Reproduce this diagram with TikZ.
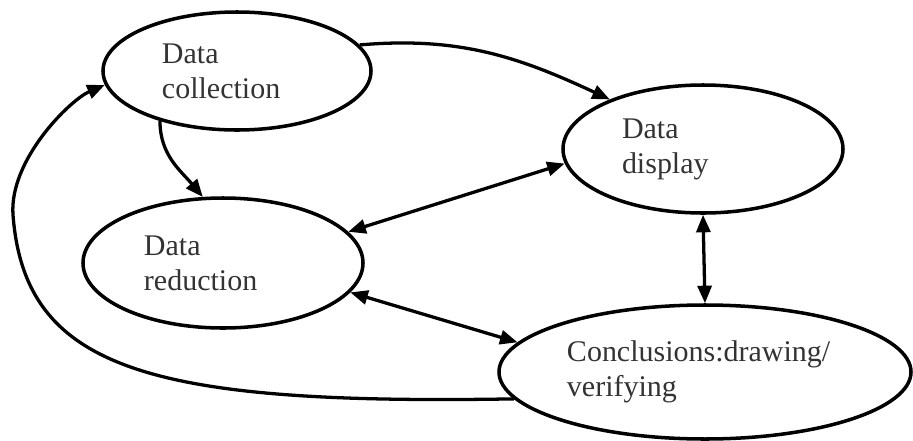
\documentclass[tikz,border=0pt]{standalone}
\usepackage{fontspec}
\setmainfont{Liberation Serif}
\usetikzlibrary{shapes.geometric,arrows.meta}

\begin{document}
\begin{tikzpicture}[x=0.03cm,y=-0.03cm,
  blob/.style={ellipse,draw,line width=3pt,inner sep=0pt,align=left,
    text=black!80,font=\fontsize{25.6}{30}\selectfont},
  link/.style={line width=2.8pt,-{Triangle[length=15pt,width=12pt]}},
  both/.style={line width=2.8pt,{Triangle[length=15pt,width=12pt]}-{Triangle[length=15pt,width=12pt]}}]
\useasboundingbox (0,0) rectangle (913,440);

\node[blob,minimum width=8.04cm,minimum height=3.54cm,text width=4.5cm] (coll) at (237,71) {Data\\collection};
\node[blob,minimum width=8.4cm,minimum height=3.84cm,text width=4.86cm] (disp) at (703,149) {Data\\display};
\node[blob,minimum width=8.4cm,minimum height=3.9cm,text width=4.74cm] (red) at (223,263) {Data\\reduction};
\node[blob,minimum width=12.36cm,minimum height=4.02cm,text width=8.28cm] (conc) at (705,372) {Conclusions:drawing/\\verifying};

\draw[link] (coll.12) to[out=5,in=155] (disp.152);
\draw[link] (coll.213) to[out=-90,in=130] (red.107);

\draw[both] (disp.186) -- (red.14);
\draw[both] (red.347) -- (conc.171);
\draw[both] (disp.south) -- (conc.north);

\draw[link] (conc.188) .. controls (150,405) and (25,370) .. (13,215)
  .. controls (9,160) and (70,100) .. (coll.186);

\end{tikzpicture}
\end{document}
